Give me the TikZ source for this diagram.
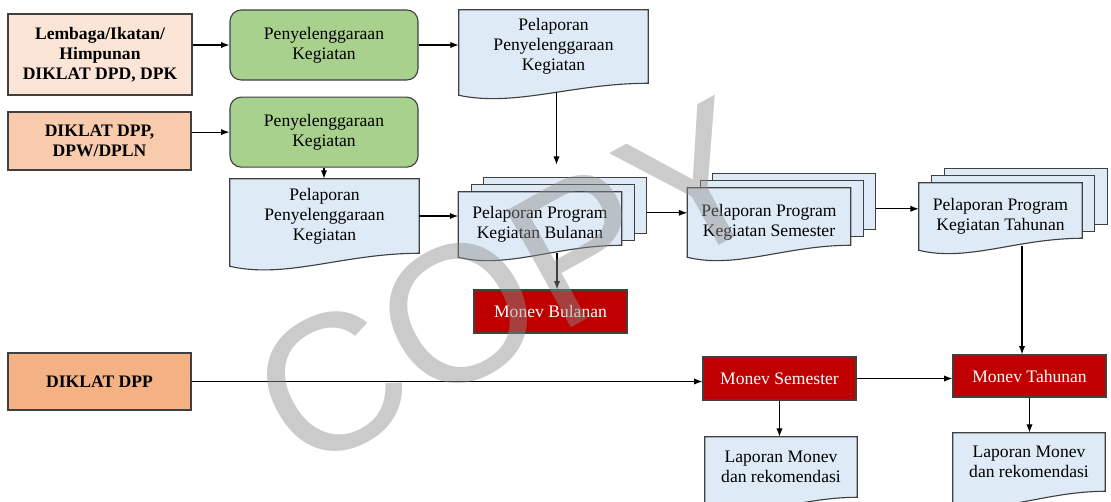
\documentclass[tikz,border=0pt]{standalone}
\usepackage{fontspec}
\setmainfont{Liberation Serif}
\newfontfamily\markfont{Liberation Sans}
\usetikzlibrary{arrows.meta,positioning,calc,backgrounds}
\definecolor{srcLight}{HTML}{FBE5D6}
\definecolor{srcMid}{HTML}{F8CBAD}
\definecolor{srcDark}{HTML}{F4B183}
\definecolor{actGreen}{HTML}{A9D18E}
\definecolor{docBlue}{HTML}{DEEBF7}
\definecolor{monRed}{HTML}{C00000}
\definecolor{lineGray}{HTML}{404040}
\newcommand{\pxu}{0.025cm}
% wavy lower edge of a document node: #1 node, #2 rise at right, #3 drop at left
\newcommand{\docwave}[3]{%
  \path[docline] (#1.north west) -- (#1.north east) -- ($(#1.south east)+(0,#2)$)
    .. controls ($(#1.south west)!0.6!(#1.south east)+(0,#2)$) and ($(#1.south west)!0.3!(#1.south east)+(0,{-2*#3-#2})$)
    .. ($(#1.south west)+(0,-#3)$) -- cycle;}

\begin{document}
\begin{tikzpicture}[
x=\pxu, y=\pxu,
every node/.style={font=\fontsize{12.5}{14.2}\selectfont},
src/.style={draw=lineGray, line width=0.8pt, align=center, inner sep=0pt, minimum width=183*\pxu, font=\fontsize{12.5}{14.2}\selectfont\bfseries},
act/.style={draw=lineGray, fill=actGreen, rounded corners=8pt, line width=0.8pt, align=center, inner sep=0pt, minimum width=188*\pxu, minimum height=70*\pxu},
doc/.style={align=center, inner sep=0pt},
docline/.style={draw=lineGray, fill=docBlue, line width=0.8pt},
sheet/.style={docline, inner sep=0pt, minimum width=163*\pxu, minimum height=56*\pxu, anchor=north west},
mon/.style={draw=lineGray, fill=monRed, text=white, line width=0.8pt, inner sep=0pt, minimum width=153*\pxu, minimum height=43*\pxu},
arr/.style={-{Latex[length=6pt,width=4.5pt]}, line width=0.8pt}
]
\useasboundingbox (0,0) rectangle (1111,-501);

% Source units
\node[src, fill=srcLight, minimum width=184*\pxu, minimum height=81*\pxu] (S1) at (100,-54.5) {Lembaga/Ikatan/\\Himpunan\\DIKLAT DPD, DPK};
\node[src, fill=srcMid, minimum height=58*\pxu] (S2) at (99.5,-141) {DIKLAT DPP,\\DPW/DPLN};
\node[src, fill=srcDark, minimum height=57*\pxu] (S3) at (99.5,-381.5) {DIKLAT DPP};

% Penyelenggaraan kegiatan
\node[act] (K1) at (324,-45) {Penyelenggaraan\\Kegiatan};
\node[act, below=0.4cm of K1] (K2) {Penyelenggaraan\\Kegiatan};

% Reports (text only, outline drawn behind)
\node[doc, minimum width=189*\pxu, minimum height=73*\pxu] (L1) at (553.5,-46.5) {Pelaporan\\Penyelenggaraan\\Kegiatan};
\node[doc, minimum width=189*\pxu, minimum height=74*\pxu] (L2) at (324.5,-216) {Pelaporan\\Penyelenggaraan\\Kegiatan};
\node[doc, minimum width=163*\pxu, minimum height=65*\pxu] (PB) at (540,-224.5) {Pelaporan Program\\Kegiatan Bulanan};
\node[doc, minimum width=163*\pxu, minimum height=69*\pxu] (PS) at (769,-222.5) {Pelaporan Program\\Kegiatan Semester};
\node[doc, minimum width=163*\pxu, minimum height=67*\pxu] (PT) at (1000.5,-216.5) {Pelaporan Program\\Kegiatan Tahunan};

% Monev
\node[mon] (MB) at (550.5,-311.5) {Monev Bulanan};
\node[mon] (MS) at (779.5,-378.5) {Monev Semester};
\node[mon, minimum height=42*\pxu] (MT) at (1029.5,-376) {Monev Tahunan};
\node[doc, minimum width=152*\pxu, minimum height=60*\pxu] (LS) at (781,-467) {Laporan Monev\\dan rekomendasi};
\node[doc, minimum width=152*\pxu, minimum height=58*\pxu] (LT) at (1029,-462) {Laporan Monev\\dan rekomendasi};

\begin{scope}[on background layer]
\docwave{L1}{0}{12}
\docwave{L2}{0}{13}
\foreach \n in {PB,PS,PT}{
  \node[sheet] (\n3) at ($(\n.north west)+(25,15)$) {};
  \node[sheet] (\n2) at ($(\n.north west)+(12.5,7.5)$) {};
  \docwave{\n}{12}{0}
}
\docwave{LS}{0}{12}
\docwave{LT}{0}{12}
\end{scope}

% Connectors
\coordinate (L1out) at ($(L1.south)+(3,-9)$);
\coordinate (PBout) at ($(PB.south)+(17,4)$);
\coordinate (PTout) at ($(PT.south)+(21.5,4)$);
\draw[arr] (S1.east |- K1.west) -- (K1.west);
\draw[arr] (K1.east) -- (K1.east -| L1.west);
\draw[arr] (S2.east |- K2.west) -- (K2.west);
\draw[arr] (K2.south) -- (K2.south |- L2.north);
\draw[arr, shorten >=0.3cm] (L1out) -- (L1out |- PB3.north);
\draw[arr] (L2.east) -- (L2.east -| PB.west);
\draw[arr] (PBout) -- (PBout |- MB.north);
\draw[arr] (PB3.east |- PB2.east) -- (PB2.east -| PS.west);
\draw[arr] (PS3.east |- PS2.east) -- (PS2.east -| PT.west);
\draw[arr] (PTout) -- (PTout |- MT.north);
\draw[arr] (S3.east) -- (S3.east -| MS.west);
\draw[arr] (MS.east) -- (MS.east -| MT.west);
\draw[arr] (MS.south) -- (MS.south |- LS.north);
\draw[arr] (MT.south) -- (MT.south |- LT.north);

% Watermark
\node[rotate=29, text=black!45, text opacity=0.45, inner sep=0pt, font=\markfont\fontsize{138}{138}\selectfont] (wm) at (511,-285) {COPY};

\end{tikzpicture}
\end{document}
